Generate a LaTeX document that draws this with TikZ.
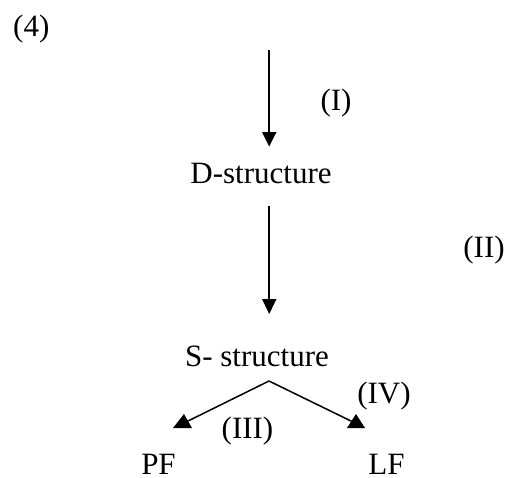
\documentclass[tikz,border=0pt]{standalone}
\usepackage{fontspec}
\setmainfont{Liberation Serif}
\begin{document}
\begin{tikzpicture}[x=1pt,y=-1pt,
  lbl/.style={inner sep=0pt,anchor=base,font=\fontsize{31}{36}\selectfont},
  conn/.style={line width=1.5pt},
  head/.style={fill=black,draw=none}]
\useasboundingbox (0,0) rectangle (508,477);

% labels
\node[lbl,anchor=base west] (num) at (13,36) {(4)};
\node[lbl] (ds) at (261,183) {D-structure};
\node[lbl] (ss) at (257,366) {S- structure};
\node[lbl,text depth=0pt] (pf) at (158.5,474) {PF};
\node[lbl,text depth=0pt] (lf) at (386.5,474) {LF};
\node[lbl] (r1) at (336,110) {(I)};
\node[lbl] (r2) at (484,257) {(II)};
\node[lbl] (r3) at (247.5,438) {(III)};
\node[lbl] (r4) at (384,403) {(IV)};

% connector end points
\coordinate (top) at (269,50);
\coordinate (t1) at (269,133);
\coordinate (d0) at (269,206);
\coordinate (t2) at (269,300);
\coordinate (apex) at (269,381);
\coordinate (tl) at (186,422);
\coordinate (tr) at (353,422);

% downward arrows
\draw[conn] (top) -- (t1);
\fill[head] (262,132) -- (276.5,132) -- (269.2,146.5) -- cycle;
\draw[conn] (d0) -- (t2);
\fill[head] (262,299) -- (276.5,299) -- (269.2,314) -- cycle;

% branching arrows towards PF and LF
\draw[conn] (apex) -- (tl);
\fill[head] (173,428) -- (192,428) -- (184,414) -- cycle;
\draw[conn] (apex) -- (tr);
\fill[head] (347,428) -- (365,428) -- (356,414) -- cycle;
\end{tikzpicture}
\end{document}
